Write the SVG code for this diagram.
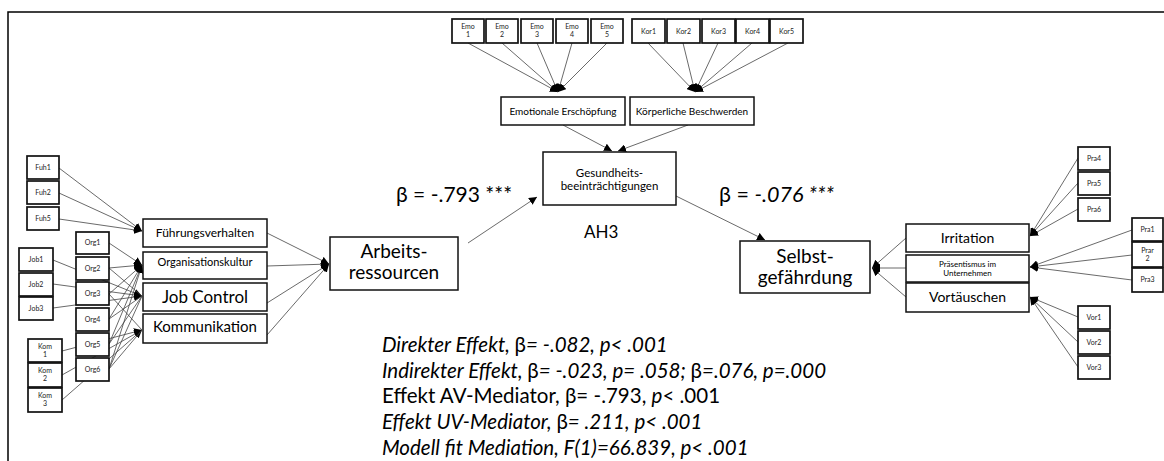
<svg xmlns="http://www.w3.org/2000/svg" width="1164" height="461" viewBox="0 0 1164 461">
  <defs>
    <marker id="tip" markerUnits="userSpaceOnUse" markerWidth="8" markerHeight="8" viewBox="0 0 10 10" refX="10" refY="5" orient="auto">
      <path d="M0,0 L10,5 L0,10 z" fill="#000"/>
    </marker>
    <style>
      text { font-family: Lato, "Open Sans", "Liberation Sans", sans-serif; fill: #000; }
      .box { fill: #fff; stroke: #111; stroke-width: 1.5; }
      .ind { fill: #fff; stroke: #111; stroke-width: 1.7; }
      .ln { stroke: #444; stroke-width: 0.8; fill: none; marker-end: url(#tip); }
      .ln0 { stroke: #444; stroke-width: 0.8; fill: none; }
      .s7 { font-size: 7px; text-anchor: middle; fill: #222; }
      .c { text-anchor: middle; }
      .it { font-style: italic; }
    </style>
  </defs>
  <rect width="1164" height="461" fill="#fff"/>

  <!-- page frame -->
  <path d="M8,461 V12 H1164" fill="none" stroke="#000" stroke-width="1.5"/>

  <!-- connectors -->
  <g id="connectors">
    <!-- Emo items -> Emotionale Erschöpfung -->
    <line class="ln" x1="468" y1="43" x2="558" y2="92"/>
    <line class="ln" x1="502" y1="43" x2="558" y2="92"/>
    <line class="ln" x1="537" y1="43" x2="558" y2="92"/>
    <line class="ln" x1="572" y1="43" x2="558" y2="92"/>
    <line class="ln" x1="607" y1="43" x2="558" y2="92"/>
    <!-- Kor items -> Körperliche Beschwerden -->
    <line class="ln" x1="648" y1="43" x2="695" y2="92"/>
    <line class="ln" x1="683" y1="43" x2="695" y2="92"/>
    <line class="ln" x1="718" y1="43" x2="695" y2="92"/>
    <line class="ln" x1="752" y1="43" x2="695" y2="92"/>
    <line class="ln" x1="788" y1="43" x2="695" y2="92"/>
    <!-- sub-factors -> Gesundheitsbeeinträchtigungen -->
    <line class="ln" x1="563" y1="125" x2="612" y2="151"/>
    <line class="ln" x1="688" y1="125" x2="618" y2="151"/>

    <!-- Fuh -> Führungsverhalten -->
    <line class="ln" x1="59" y1="168" x2="142" y2="231"/>
    <line class="ln" x1="59" y1="193" x2="142" y2="231"/>
    <line class="ln" x1="59" y1="219" x2="142" y2="231"/>
    <!-- Job -> Job Control -->
    <line class="ln" x1="53" y1="260" x2="142" y2="296"/>
    <line class="ln" x1="53" y1="284" x2="142" y2="296"/>
    <line class="ln" x1="53" y1="308" x2="142" y2="296"/>
    <!-- Kom -> Kommunikation -->
    <line class="ln" x1="62" y1="351" x2="142" y2="330"/>
    <line class="ln" x1="62" y1="375" x2="142" y2="330"/>
    <line class="ln" x1="62" y1="400" x2="142" y2="330"/>
    <!-- Org -> Organisationskultur -->
    <line class="ln" x1="109" y1="243" x2="142" y2="265"/>
    <line class="ln" x1="109" y1="268" x2="142" y2="265"/>
    <line class="ln" x1="109" y1="294" x2="142" y2="265"/>
    <line class="ln" x1="109" y1="319" x2="142" y2="265"/>
    <line class="ln" x1="109" y1="344" x2="142" y2="265"/>
    <line class="ln" x1="109" y1="369" x2="142" y2="265"/>
    <!-- Org cross-loadings -->
    <line class="ln0" x1="109" y1="268" x2="142" y2="296"/>
    <line class="ln0" x1="109" y1="319" x2="142" y2="296"/>
    <line class="ln0" x1="109" y1="344" x2="142" y2="296"/>
    <line class="ln0" x1="109" y1="369" x2="142" y2="296"/>
    <line class="ln0" x1="109" y1="294" x2="142" y2="330"/>
    <line class="ln0" x1="109" y1="369" x2="142" y2="330"/>

    <!-- first-order factors -> Arbeitsressourcen -->
    <line class="ln" x1="267" y1="233" x2="329" y2="264"/>
    <line class="ln" x1="267" y1="266" x2="329" y2="264"/>
    <line class="ln" x1="267" y1="303" x2="329" y2="264"/>
    <line class="ln" x1="267" y1="335" x2="329" y2="264"/>

    <!-- structural paths -->
    <line class="ln" x1="468" y1="243" x2="537" y2="197"/>
    <line class="ln" x1="676" y1="196" x2="765" y2="240"/>

    <!-- right-hand factors -> Selbstgefährdung -->
    <line class="ln" x1="906" y1="238" x2="872" y2="268"/>
    <line class="ln" x1="906" y1="268" x2="872" y2="268"/>
    <line class="ln" x1="906" y1="297" x2="872" y2="268"/>

    <!-- Pra4-6 -> Irritation -->
    <line class="ln" x1="1078" y1="158" x2="1030" y2="236"/>
    <line class="ln" x1="1078" y1="183" x2="1030" y2="236"/>
    <line class="ln" x1="1078" y1="209" x2="1030" y2="236"/>
    <!-- Pra1-3 -> Präsentismus -->
    <line class="ln" x1="1132" y1="230" x2="1030" y2="267"/>
    <line class="ln" x1="1132" y1="255" x2="1030" y2="267"/>
    <line class="ln" x1="1132" y1="280" x2="1030" y2="267"/>
    <!-- Vor -> Vortäuschen -->
    <line class="ln" x1="1078" y1="317" x2="1030" y2="297"/>
    <line class="ln" x1="1078" y1="342" x2="1030" y2="297"/>
    <line class="ln" x1="1078" y1="367" x2="1030" y2="297"/>
  </g>

  <!-- indicator items: Emo -->
  <g id="emo1"><rect class="ind" x="452" y="19" width="32" height="24"/><text class="s7" x="468" y="29">Emo</text><text class="s7" x="468" y="37">1</text></g>
  <g id="emo2"><rect class="ind" x="486" y="19" width="32" height="24"/><text class="s7" x="502" y="29">Emo</text><text class="s7" x="502" y="37">2</text></g>
  <g id="emo3"><rect class="ind" x="521" y="19" width="32" height="24"/><text class="s7" x="537" y="29">Emo</text><text class="s7" x="537" y="37">3</text></g>
  <g id="emo4"><rect class="ind" x="556" y="19" width="32" height="24"/><text class="s7" x="572" y="29">Emo</text><text class="s7" x="572" y="37">4</text></g>
  <g id="emo5"><rect class="ind" x="591" y="19" width="32" height="24"/><text class="s7" x="607" y="29">Emo</text><text class="s7" x="607" y="37">5</text></g>

  <!-- indicator items: Kor -->
  <g id="kor1"><rect class="ind" x="632" y="19" width="33" height="24"/><text class="s7" x="648.5" y="34">Kor1</text></g>
  <g id="kor2"><rect class="ind" x="667" y="19" width="33" height="24"/><text class="s7" x="683.5" y="34">Kor2</text></g>
  <g id="kor3"><rect class="ind" x="702" y="19" width="33" height="24"/><text class="s7" x="718.5" y="34">Kor3</text></g>
  <g id="kor4"><rect class="ind" x="736" y="19" width="33" height="24"/><text class="s7" x="752.5" y="34">Kor4</text></g>
  <g id="kor5"><rect class="ind" x="770" y="19" width="33" height="24"/><text class="s7" x="786.5" y="34">Kor5</text></g>

  <!-- health sub-factors -->
  <g id="emotionale-erschoepfung"><rect class="box" x="501" y="97" width="124" height="28"/><text class="c" x="563" y="115" font-size="10">Emotionale Erschöpfung</text></g>
  <g id="koerperliche-beschwerden"><rect class="box" x="630" y="97" width="124" height="28"/><text class="c" x="692" y="115" font-size="10">Körperliche Beschwerden</text></g>

  <!-- mediator -->
  <g id="gesundheit"><rect class="box" x="543" y="152" width="133" height="53"/><text class="c" x="609.5" y="177" font-size="11.5">Gesundheits-</text><text class="c" x="609.5" y="190" font-size="11.5">beeinträchtigungen</text></g>

  <!-- left indicators -->
  <g id="fuh1"><rect class="ind" x="27" y="156" width="32" height="23"/><text class="s7" x="43" y="170">Fuh1</text></g>
  <g id="fuh2"><rect class="ind" x="27" y="181" width="32" height="23"/><text class="s7" x="43" y="195">Fuh2</text></g>
  <g id="fuh5"><rect class="ind" x="27" y="207" width="32" height="23"/><text class="s7" x="43" y="221">Fuh5</text></g>

  <g id="job1"><rect class="ind" x="19" y="248" width="34" height="23"/><text class="s7" x="36" y="262">Job1</text></g>
  <g id="job2"><rect class="ind" x="19" y="273" width="34" height="23"/><text class="s7" x="36" y="287">Job2</text></g>
  <g id="job3"><rect class="ind" x="19" y="297" width="34" height="23"/><text class="s7" x="36" y="311">Job3</text></g>

  <g id="kom1"><rect class="ind" x="28" y="339" width="34" height="23"/><text class="s7" x="45" y="349">Kom</text><text class="s7" x="45" y="357">1</text></g>
  <g id="kom2"><rect class="ind" x="28" y="363" width="34" height="24"/><text class="s7" x="45" y="373">Kom</text><text class="s7" x="45" y="381">2</text></g>
  <g id="kom3"><rect class="ind" x="28" y="388" width="34" height="24"/><text class="s7" x="45" y="398">Kom</text><text class="s7" x="45" y="406">3</text></g>

  <g id="org1"><rect class="ind" x="76" y="232" width="33" height="22"/><text class="s7" x="92.5" y="245">Org1</text></g>
  <g id="org2"><rect class="ind" x="76" y="257" width="33" height="23"/><text class="s7" x="92.5" y="271">Org2</text></g>
  <g id="org3"><rect class="ind" x="76" y="282" width="33" height="23"/><text class="s7" x="92.5" y="296">Org3</text></g>
  <g id="org4"><rect class="ind" x="76" y="308" width="33" height="23"/><text class="s7" x="92.5" y="322">Org4</text></g>
  <g id="org5"><rect class="ind" x="76" y="333" width="33" height="23"/><text class="s7" x="92.5" y="347">Org5</text></g>
  <g id="org6"><rect class="ind" x="76" y="358" width="33" height="23"/><text class="s7" x="92.5" y="372">Org6</text></g>

  <!-- left first-order factors -->
  <g id="fuehrungsverhalten"><rect class="box" x="143" y="219" width="124" height="28"/><text class="c" x="205" y="237" font-size="12">Führungsverhalten</text></g>
  <g id="organisationskultur"><rect class="box" x="143" y="252" width="124" height="27"/><text class="c" x="205" y="266" font-size="11">Organisationskultur</text></g>
  <g id="job-control"><rect class="box" x="143" y="283" width="124" height="28"/><text class="c" x="205" y="303" font-size="17">Job Control</text></g>
  <g id="kommunikation"><rect class="box" x="143" y="314" width="124" height="29"/><text class="c" x="205" y="332" font-size="15">Kommunikation</text></g>

  <!-- independent variable -->
  <g id="arbeitsressourcen"><rect class="box" x="330" y="237" width="128" height="53"/><text class="c" x="394" y="258" font-size="19">Arbeits-</text><text class="c" x="394" y="279" font-size="19">ressourcen</text></g>

  <!-- dependent variable -->
  <g id="selbstgefaehrdung"><rect class="box" x="740" y="241" width="130" height="52"/><text class="c" x="805" y="263" font-size="19">Selbst-</text><text class="c" x="805" y="284" font-size="19">gefährdung</text></g>

  <!-- right first-order factors -->
  <g id="irritation"><rect class="box" x="906" y="224" width="123" height="28"/><text class="c" x="967.5" y="243" font-size="14">Irritation</text></g>
  <g id="praesentismus"><rect class="box" x="906" y="255" width="123" height="27"/><text class="c" x="967.5" y="267" font-size="8">Präsentismus im</text><text class="c" x="967.5" y="276" font-size="8">Unternehmen</text></g>
  <g id="vortaeuschen"><rect class="box" x="906" y="283" width="123" height="29"/><text class="c" x="967.5" y="302" font-size="14">Vortäuschen</text></g>

  <!-- right indicators -->
  <g id="pra4"><rect class="ind" x="1078" y="147" width="32" height="23"/><text class="s7" x="1094" y="161">Pra4</text></g>
  <g id="pra5"><rect class="ind" x="1078" y="172" width="32" height="23"/><text class="s7" x="1094" y="186">Pra5</text></g>
  <g id="pra6"><rect class="ind" x="1078" y="198" width="32" height="23"/><text class="s7" x="1094" y="212">Pra6</text></g>
  <g id="pra1"><rect class="ind" x="1132" y="218" width="31" height="23"/><text class="s7" x="1147.5" y="232">Pra1</text></g>
  <g id="prar2"><rect class="ind" x="1132" y="242" width="31" height="25"/><text class="s7" x="1147.5" y="253">Prar</text><text class="s7" x="1147.5" y="261">2</text></g>
  <g id="pra3"><rect class="ind" x="1132" y="268" width="31" height="24"/><text class="s7" x="1147.5" y="282">Pra3</text></g>
  <g id="vor1"><rect class="ind" x="1078" y="306" width="32" height="23"/><text class="s7" x="1094" y="320">Vor1</text></g>
  <g id="vor2"><rect class="ind" x="1078" y="331" width="32" height="23"/><text class="s7" x="1094" y="345">Vor2</text></g>
  <g id="vor3"><rect class="ind" x="1078" y="356" width="32" height="23"/><text class="s7" x="1094" y="370">Vor3</text></g>

  <!-- path coefficients -->
  <g id="labels">
    <text x="396" y="202" font-size="21">β = -.793 ***</text>
    <text x="719" y="202" font-size="21.5">β = <tspan class="it">-.076 ***</tspan></text>
    <text x="584" y="238" font-size="17">AH3</text>
  </g>

  <!-- mediation summary -->
  <g id="summary" font-size="20.5">
    <text x="382" y="352"><tspan class="it">Direkter Effekt, </tspan>β<tspan class="it">= -.082, p&lt; .001</tspan></text>
    <text x="382" y="378"><tspan class="it">Indirekter Effekt, </tspan>β<tspan class="it">= -.023, p= .058; </tspan>β<tspan class="it">=.076, p=.000</tspan></text>
    <text x="382" y="403">Effekt AV-Mediator, β= -.793, <tspan class="it">p</tspan>&lt; .001</text>
    <text x="382" y="429"><tspan class="it">Effekt UV-Mediator, </tspan>β<tspan class="it">= .211, p&lt; .001</tspan></text>
    <text x="382" y="455" class="it">Modell fit Mediation, F(1)=66.839, p&lt; .001</text>
  </g>
</svg>
